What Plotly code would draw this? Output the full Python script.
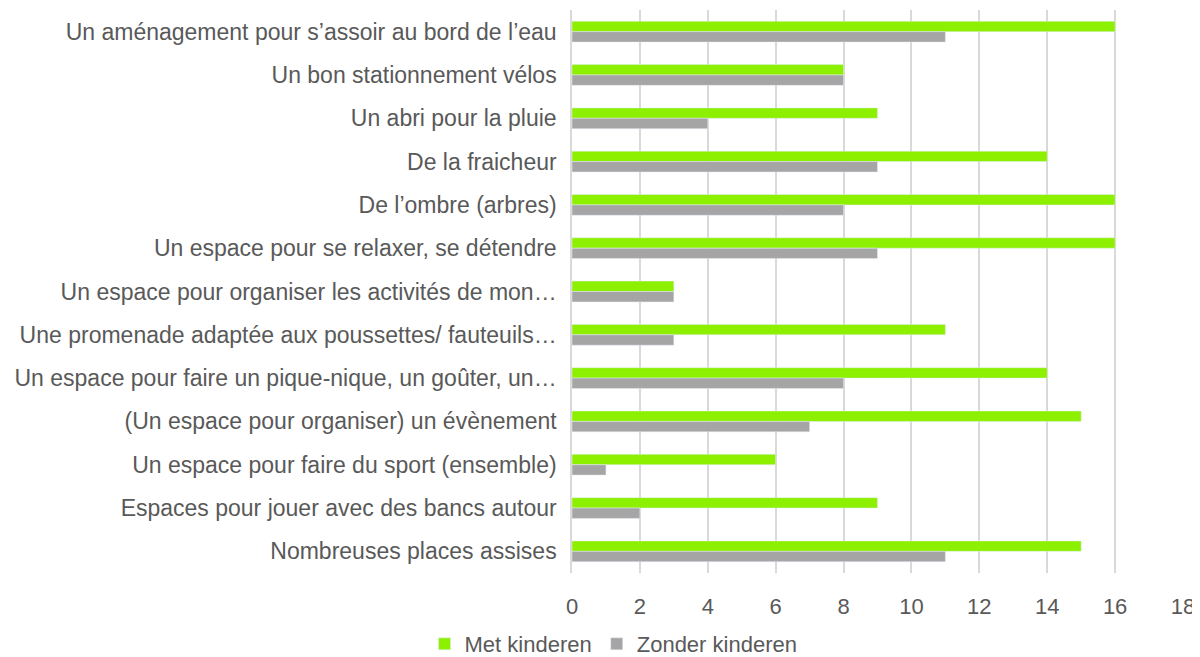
import plotly.graph_objects as go

categories = [
    "Un aménagement pour s’assoir au bord de l’eau",
    "Un bon stationnement vélos",
    "Un abri pour la pluie",
    "De la fraicheur",
    "De l’ombre (arbres)",
    "Un espace pour se relaxer, se détendre",
    "Un espace pour organiser les activités de mon…",
    "Une promenade adaptée aux poussettes/ fauteuils…",
    "Un espace pour faire un pique-nique, un goûter, un…",
    "(Un espace pour organiser) un évènement",
    "Un espace pour faire du sport (ensemble)",
    "Espaces pour jouer avec des bancs autour",
    "Nombreuses places assises",
]
met_kinderen = [16, 8, 9, 14, 16, 16, 3, 11, 14, 15, 6, 9, 15]
zonder_kinderen = [11, 8, 4, 9, 8, 9, 3, 3, 8, 7, 1, 2, 11]
x_ticks = [0, 2, 4, 6, 8, 10, 12, 14, 16, 18]

fig = go.Figure()
fig.add_trace(go.Bar(y=categories, x=met_kinderen, orientation="h",
                     name="Met kinderen", marker_color="#8CF000"))
fig.add_trace(go.Bar(y=categories, x=zonder_kinderen, orientation="h",
                     name="Zonder kinderen", marker_color="#A5A5A5"))

font = "Liberation Sans, Arial, sans-serif"
# page body has an 8px default margin, so the figure is sized to fit
fig.update_layout(
    width=1192, height=649,
    margin=dict(l=564, r=17, t=2, b=84, autoexpand=False),
    paper_bgcolor="white", plot_bgcolor="white",
    barmode="group", bargap=0.52, bargroupgap=0,
    font=dict(family=font, size=22, color="#595959"),
    legend=dict(orientation="h", xref="container", yref="container",
                x=0.508, xanchor="center", y=0.02, yanchor="middle",
                font=dict(size=22, color="#595959"),
                itemwidth=30, traceorder="normal"),
    xaxis=dict(range=[0, 18], tickvals=x_ticks, showgrid=True,
               gridcolor="#D9D9D9", gridwidth=1.5, zeroline=False,
               ticks="", tickfont=dict(size=22, color="#595959"),
               ticklabelstandoff=18, automargin=False),
    yaxis=dict(autorange="reversed", showline=True, linecolor="#D9D9D9",
               linewidth=1.5, ticks="", showgrid=False,
               tickfont=dict(size=23, color="#595959"),
               ticklabelstandoff=9, automargin=False),
)

fig.write_html("out.html")
